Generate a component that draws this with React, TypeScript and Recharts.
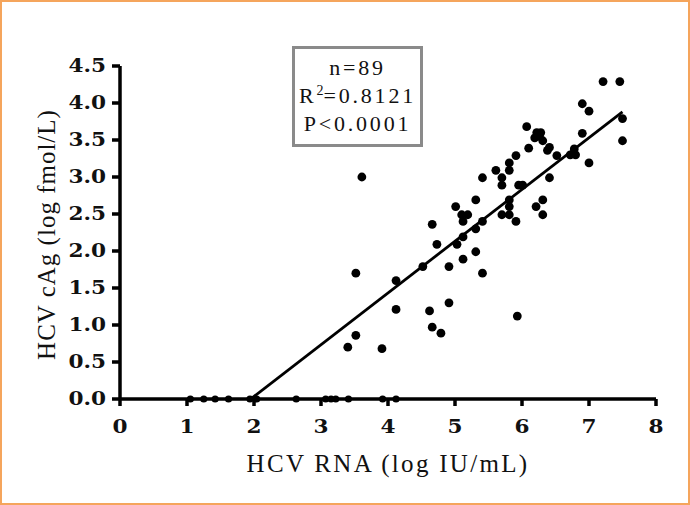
import { ScatterChart, Scatter, XAxis, YAxis, Label } from 'recharts';

// HCV RNA (log IU/mL) axis
const rnaTicks = [0, 1, 2, 3, 4, 5, 6, 7, 8];
// HCV cAg (log fmol/L) axis
const cagTicks = [0, 0.5, 1, 1.5, 2, 2.5, 3, 3.5, 4, 4.5];

// samples with cAg below detection, sitting on the x axis
const undetected = [
  { x: 1.05, y: 0 }, { x: 1.25, y: 0 }, { x: 1.42, y: 0 }, { x: 1.62, y: 0 },
  { x: 1.94, y: 0 }, { x: 2.04, y: 0 }, { x: 2.63, y: 0 }, { x: 3.07, y: 0 },
  { x: 3.15, y: 0 }, { x: 3.22, y: 0 }, { x: 3.41, y: 0 }, { x: 3.92, y: 0 },
  { x: 4.12, y: 0 },
];

const detected = [
  { x: 3.4, y: 0.7 }, { x: 3.52, y: 0.86 }, { x: 3.52, y: 1.7 }, { x: 3.61, y: 3.0 },
  { x: 3.91, y: 0.68 }, { x: 4.12, y: 1.21 }, { x: 4.12, y: 1.6 }, { x: 4.52, y: 1.79 },
  { x: 4.62, y: 1.19 }, { x: 4.66, y: 0.97 }, { x: 4.66, y: 2.36 }, { x: 4.73, y: 2.09 },
  { x: 4.79, y: 0.89 }, { x: 4.91, y: 1.79 }, { x: 4.91, y: 1.3 }, { x: 5.01, y: 2.6 },
  { x: 5.03, y: 2.09 }, { x: 5.12, y: 1.89 }, { x: 5.12, y: 2.19 }, { x: 5.1, y: 2.49 },
  { x: 5.12, y: 2.4 }, { x: 5.19, y: 2.49 }, { x: 5.31, y: 2.69 }, { x: 5.31, y: 2.3 },
  { x: 5.31, y: 1.99 }, { x: 5.41, y: 2.99 }, { x: 5.41, y: 2.4 }, { x: 5.41, y: 1.7 },
  { x: 5.61, y: 3.09 }, { x: 5.7, y: 2.99 }, { x: 5.7, y: 2.89 }, { x: 5.7, y: 2.49 },
  { x: 5.81, y: 3.19 }, { x: 5.81, y: 3.09 }, { x: 5.81, y: 2.69 }, { x: 5.81, y: 2.6 },
  { x: 5.81, y: 2.49 }, { x: 5.91, y: 3.29 }, { x: 5.91, y: 2.4 }, { x: 5.93, y: 1.12 },
  { x: 5.95, y: 2.89 }, { x: 6.01, y: 2.89 }, { x: 6.07, y: 3.68 }, { x: 6.1, y: 3.39 },
  { x: 6.19, y: 3.53 }, { x: 6.22, y: 3.6 }, { x: 6.28, y: 3.6 }, { x: 6.26, y: 3.55 },
  { x: 6.31, y: 3.49 }, { x: 6.21, y: 2.6 }, { x: 6.31, y: 2.69 }, { x: 6.31, y: 2.49 },
  { x: 6.38, y: 3.36 }, { x: 6.41, y: 3.4 }, { x: 6.41, y: 2.99 }, { x: 6.52, y: 3.29 },
  { x: 6.72, y: 3.3 }, { x: 6.78, y: 3.38 }, { x: 6.8, y: 3.3 }, { x: 6.9, y: 3.99 },
  { x: 6.9, y: 3.59 }, { x: 7.0, y: 3.89 }, { x: 7.0, y: 3.19 }, { x: 7.21, y: 4.29 },
  { x: 7.46, y: 4.29 }, { x: 7.5, y: 3.79 }, { x: 7.5, y: 3.49 },
];

// linear regression fit, end points
const fitLine = [
  { x: 1.95, y: 0 },
  { x: 7.5, y: 3.88 },
];

const statN = 'n=89';
const statR2 = '0.8121';
const statP = 'P<0.0001';

const serif = '"Liberation Serif", "Times New Roman", serif';
const tickFamily = '"DejaVu Serif", serif';

function Dot(props: any) {
  return <circle cx={props.cx} cy={props.cy} r={4.4} fill="#000" />;
}

function SmallDot(props: any) {
  return <circle cx={props.cx} cy={props.cy} r={3.6} fill="#000" />;
}

function NoShape() {
  return <g />;
}

// bold, slightly widened tick labels like the original export
function YTick({ x, y, payload }: any) {
  return (
    <g transform={`translate(${x},${y}) scale(1.2,1)`}>
      <text x={0} y={0} dy="0.36em" textAnchor="end" fontFamily={tickFamily} fontWeight={700} fontSize={18} fill="#111">
        {Number(payload.value).toFixed(1)}
      </text>
    </g>
  );
}

function XTick({ x, y, payload }: any) {
  return (
    <g transform={`translate(${x},${y}) scale(1.2,1)`}>
      <text x={0} y={0} dy="0.72em" textAnchor="middle" fontFamily={tickFamily} fontWeight={700} fontSize={18} fill="#111">
        {payload.value}
      </text>
    </g>
  );
}

function XTitle({ viewBox }: any) {
  const cx = viewBox.x + viewBox.width / 2;
  return (
    <text x={cx} y={472} textAnchor="middle" fontFamily={serif} fontSize={25} letterSpacing={2.3} fill="#111">
      HCV RNA (log IU/mL)
    </text>
  );
}

function YTitle({ viewBox }: any) {
  const cy = viewBox.y + viewBox.height / 2 + 2;
  const cx = 46;
  return (
    <text
      x={cx}
      y={cy}
      transform={`rotate(-90 ${cx} ${cy})`}
      textAnchor="middle"
      dominantBaseline="central"
      fontFamily={serif}
      fontSize={25}
      letterSpacing={1}
      fill="#111"
    >
      HCV cAg (log fmol/L)
    </text>
  );
}

export default function App() {
  return (
    <div style={{ position: 'absolute', left: 0, top: 0, width: 690, height: 505, background: '#fff' }}>
      <ScatterChart width={690} height={505} margin={{ top: 66, right: 34, bottom: 46, left: 60 }}>
        <XAxis
          type="number"
          dataKey="x"
          domain={[0, 8]}
          ticks={rnaTicks}
          interval={0}
          height={60}
          tickSize={7}
          tickMargin={14}
          axisLine={{ stroke: '#000', strokeWidth: 3.5 }}
          tickLine={{ stroke: '#000', strokeWidth: 3.5 }}
          tick={<XTick />}
        >
          <Label content={<XTitle />} />
        </XAxis>
        <YAxis
          type="number"
          dataKey="y"
          domain={[0, 4.5]}
          ticks={cagTicks}
          interval={0}
          width={60}
          tickSize={8}
          tickMargin={6}
          axisLine={{ stroke: '#000', strokeWidth: 3.5 }}
          tickLine={{ stroke: '#000', strokeWidth: 3.5 }}
          tick={<YTick />}
        >
          <Label content={<YTitle />} />
        </YAxis>
        <Scatter data={fitLine} line={{ stroke: '#000', strokeWidth: 2.8 }} shape={<NoShape />} isAnimationActive={false} />
        <Scatter data={undetected} shape={<SmallDot />} isAnimationActive={false} />
        <Scatter data={detected} shape={<Dot />} isAnimationActive={false} />
      </ScatterChart>

      <div
        style={{
          position: 'absolute',
          left: 292,
          top: 46,
          width: 131,
          height: 101,
          boxSizing: 'border-box',
          border: '3px solid #8a8a8a',
          background: '#fff',
          fontFamily: serif,
          fontSize: 22,
          letterSpacing: 2.8,
          color: '#111',
          textAlign: 'center',
          lineHeight: '28px',
          paddingTop: 5,
        }}
      >
        <div>{statN}</div>
        <div>
          R<sup style={{ fontSize: 14, lineHeight: 0, letterSpacing: 0 }}>2</sup>={statR2}
        </div>
        <div>{statP}</div>
      </div>

      <div
        style={{
          position: 'absolute',
          inset: 0,
          boxSizing: 'border-box',
          border: '2px solid #f5a55c',
          pointerEvents: 'none',
        }}
      />
    </div>
  );
}
